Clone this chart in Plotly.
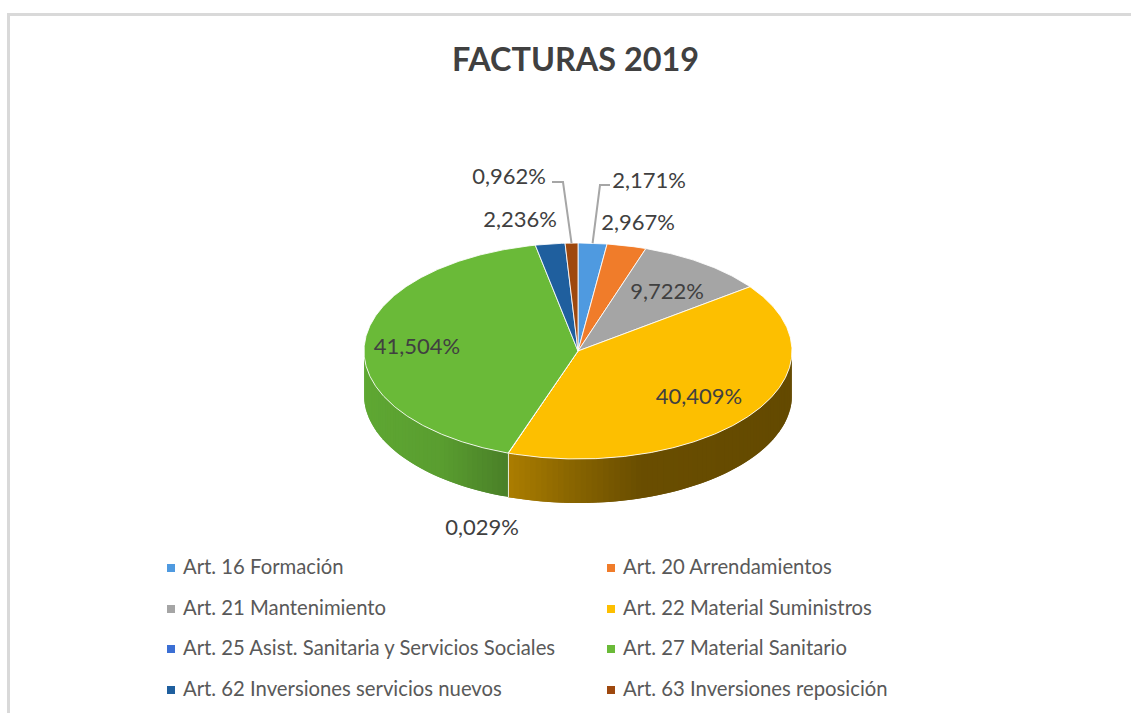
import math
import plotly.graph_objects as go

TITLE = "FACTURAS 2019"
categories = ["Art. 16 Formación", "Art. 20 Arrendamientos", "Art. 21 Mantenimiento",
              "Art. 22 Material Suministros", "Art. 25 Asist. Sanitaria y Servicios Sociales",
              "Art. 27 Material Sanitario", "Art. 62 Inversiones servicios nuevos",
              "Art. 63 Inversiones reposición"]
values = [2.171, 2.967, 9.722, 40.409, 0.029, 41.504, 2.236, 0.962]
colors = ["#4F9AE0", "#F07C2A", "#A5A5A5", "#FDBF00", "#3B6FD4", "#6ABA38", "#1F5F9E", "#9E480E"]
label_pos = [(649, 182), (638, 224), (667, 293), (699, 398), (482, 529), (417, 348), (520, 221), (509, 178)]

CX, CY, RX, RY, DEPTH = 578, 351, 214, 108, 44
FONT = "Lato"
TEXT = "#404040"
LEG = "#595959"


def pt(deg, dy=0):
    a = math.radians(deg)
    return CX + RX * math.sin(a), CY - RY * math.cos(a) + dy


def arc(a0, a1):
    n = max(2, int(abs(a1 - a0) / 0.5) + 1)
    return [a0 + (a1 - a0) * i / (n - 1) for i in range(n)]


def lerp_stops(stops, x):
    if x <= stops[0][0]:
        return stops[0][1]
    for (x0, c0), (x1, c1) in zip(stops, stops[1:]):
        if x <= x1:
            t = (x - x0) / (x1 - x0)
            return tuple(c0[i] + (c1[i] - c0[i]) * t for i in range(3))
    return stops[-1][1]


side_stops = {
    3: [(508, (172, 126, 0)), (570, (138, 102, 0)), (640, (106, 78, 0)), (792, (100, 74, 0))],
    5: [(363, (95, 168, 51)), (440, (90, 158, 48)), (508, (74, 128, 40))],
}

fig = go.Figure()

# side wall, from the cumulative values
angles = []
acc = 0
for v in values:
    angles.append((acc * 3.6, (acc + v) * 3.6))
    acc += v

for idx, (a0, a1) in enumerate(angles):
    lo, hi = max(a0, 90), min(a1, 270)
    if lo >= hi:
        continue
    steps = max(1, int((hi - lo) / 1.5))
    for s in range(steps):
        b0 = lo + (hi - lo) * s / steps
        b1 = min(hi, lo + (hi - lo) * (s + 2) / steps)  # overlaps the next strip, hides seams
        bm = lo + (hi - lo) * (s + 0.5) / steps
        top = [pt(b) for b in arc(b0, b1)]
        bot = [pt(b, DEPTH) for b in arc(b1, b0)]
        poly = top + bot + top[:1]
        if idx in side_stops:
            col = "rgb(%d,%d,%d)" % lerp_stops(side_stops[idx], pt(bm)[0])
        else:
            col = colors[idx]
        fig.add_trace(go.Scatter(x=[p[0] for p in poly], y=[p[1] for p in poly], mode="lines",
                                 fill="toself", fillcolor=col, line=dict(color=col, width=0),
                                 hoverinfo="skip", showlegend=False))

# seam on the side wall
sx, sy = pt(angles[3][1])
fig.add_trace(go.Scatter(x=[sx, sx], y=[sy, sy + DEPTH], mode="lines",
                         line=dict(color="#E8EFD8", width=1), hoverinfo="skip", showlegend=False))

# top face
for (a0, a1), col, cat in zip(angles, colors, categories):
    pts = [(CX, CY)] + [pt(b) for b in arc(a0, a1)] + [(CX, CY)]
    fig.add_trace(go.Scatter(x=[p[0] for p in pts], y=[p[1] for p in pts], mode="lines",
                             fill="toself", fillcolor=col,
                             line=dict(color="rgba(255,255,255,0.85)", width=1),
                             name=cat, showlegend=False, hoverinfo="name"))

# leader lines
for idx, (x0, xk, yk) in {0: (610, 600, 185), 7: (552, 563, 182)}.items():
    lx, ly = pt(sum(angles[idx]) / 2)
    fig.add_trace(go.Scatter(x=[x0, xk, lx], y=[yk, yk, ly], mode="lines",
                             line=dict(color="#A6A6A6", width=2), hoverinfo="skip", showlegend=False))

# data labels
fig.add_trace(go.Scatter(x=[p[0] for p in label_pos], y=[p[1] for p in label_pos], mode="text",
                         text=[f"{v:.3f}%".replace(".", ",") for v in values],
                         textposition="middle center",
                         textfont=dict(family=FONT, size=22, color=TEXT),
                         hoverinfo="skip", showlegend=False))

# legend, two columns
leg_x = [171, 611]
leg_y = [569, 610, 650, 691]
lx = [leg_x[i % 2] for i in range(len(categories))]
ly = [leg_y[i // 2] for i in range(len(categories))]
fig.add_trace(go.Scatter(x=lx, y=[v - 1 for v in ly], mode="markers",
                         marker=dict(symbol="square", size=8, color=colors),
                         hoverinfo="skip", showlegend=False))
fig.add_trace(go.Scatter(x=[v + 12 for v in lx], y=ly, mode="text", text=categories,
                         textposition="middle right",
                         textfont=dict(family=FONT, size=20.3, color=LEG),
                         hoverinfo="skip", showlegend=False))

# title
fig.add_trace(go.Scatter(x=[575.5], y=[63], mode="text", text=[f"<b>{TITLE}</b>"],
                         textposition="middle center",
                         textfont=dict(family=FONT, size=32.4, color=TEXT),
                         hoverinfo="skip", showlegend=False))

# frame of the captured chart
fig.add_shape(type="line", x0=7, x1=1131, y0=14.5, y1=14.5, line=dict(color="#D9D9D9", width=3))
fig.add_shape(type="line", x0=8.5, x1=8.5, y0=13, y1=713, line=dict(color="#D9D9D9", width=3))

fig.update_layout(width=1131, height=713, margin=dict(l=0, r=0, t=0, b=0),
                  paper_bgcolor="white", plot_bgcolor="white", showlegend=False,
                  xaxis=dict(range=[0, 1131], visible=False, fixedrange=True),
                  yaxis=dict(range=[713, 0], visible=False, fixedrange=True))
fig.write_html("out.html", config={"displayModeBar": False},
               post_script="document.body.style.margin='0';document.documentElement.style.overflow='hidden';")
